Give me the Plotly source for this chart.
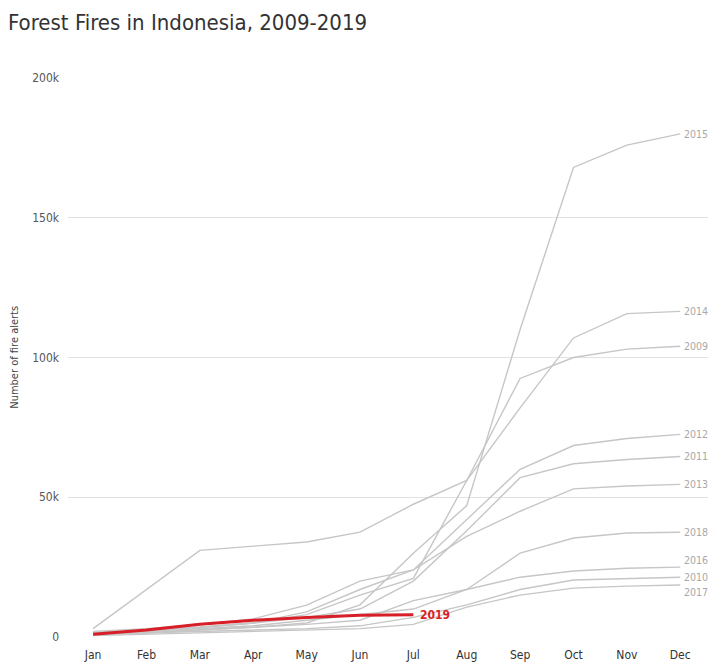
import plotly.graph_objects as go

# fire alerts, cumulative, in thousands
months = ["Jan", "Feb", "Mar", "Apr", "May", "Jun", "Jul", "Aug", "Sep", "Oct", "Nov", "Dec"]

y2009 = [1.5, 2.5, 3.5, 5, 8, 15, 21, 56, 92.5, 100, 103, 104]
y2010 = [1, 1.5, 2, 2.5, 3, 4, 7, 11.5, 17, 20.4, 21, 21.4]
y2011 = [1.5, 2.5, 3.5, 5, 7, 10, 20, 38, 57, 62, 63.5, 64.6]
y2012 = [2, 3, 4.5, 6.5, 11.4, 20, 24, 42, 60, 68.5, 71, 72.5]
y2013 = [1.5, 2.5, 3.5, 5, 9, 17, 24, 36, 45, 53, 54, 54.6]
y2014 = [3, 17, 31, 32.5, 34, 37.5, 47.5, 56, 82, 107, 115.7, 116.5]
y2015 = [1, 1.5, 2.5, 3.5, 5, 11.5, 30, 47, 110, 168, 176, 180]
y2016 = [1, 1.5, 2.5, 3.5, 4.5, 6, 13, 17, 21.4, 23.6, 24.6, 25]
y2017 = [0.5, 1, 1.5, 2, 2.5, 3, 4.5, 10.7, 15, 17.5, 18.2, 18.6]
y2018 = [1, 2, 3, 4, 6, 8, 10, 17, 30, 35.4, 37.2, 37.5]
y2019 = [1, 2.5, 4.6, 6, 7, 7.8, 8]

past = {"2009": y2009, "2010": y2010, "2011": y2011, "2012": y2012, "2013": y2013,
        "2014": y2014, "2015": y2015, "2016": y2016, "2017": y2017, "2018": y2018}
# where the end labels sit (some nudged apart so they dont overlap)
label_y = {"2009": 104, "2010": 21.4, "2011": 64.6, "2012": 72.5, "2013": 54.6,
           "2014": 116.5, "2015": 180, "2016": 27.5, "2017": 16, "2018": 37.5}

ytick_vals = [0, 50, 100, 150, 200]
ytick_text = ["0", "50k", "100k", "150k", "200k"]

FONT = "DejaVu Sans Condensed, Roboto, sans-serif"
GREY = "#c6c6c6"

fig = go.Figure()
for yr, vals in past.items():
    fig.add_trace(go.Scatter(x=months, y=[v * 1000 for v in vals], mode="lines",
                             line=dict(color=GREY, width=1.4), name=yr))
fig.add_trace(go.Scatter(x=months[:len(y2019)], y=[v * 1000 for v in y2019], mode="lines",
                         line=dict(color="#d81e27", width=3), name="2019"))

for yr, ly in label_y.items():
    fig.add_annotation(x=11, y=ly * 1000, xref="x", yref="y", text=yr, showarrow=False,
                       xanchor="left", xshift=2, font=dict(family=FONT, size=10.5, color="#a8a8a8"))
fig.add_annotation(x=6, y=y2019[-1] * 1000, xref="x", yref="y", text="<b>2019</b>", showarrow=False,
                   xanchor="left", xshift=5, font=dict(family=FONT, size=12, color="#d81e27"))

fig.add_annotation(x=-0.084, y=0.5, xref="paper", yref="paper", text="Number of fire alerts",
                   textangle=-90, showarrow=False, xanchor="center", yanchor="middle",
                   font=dict(family=FONT, size=11, color="#444"))

# page has an 8px body margin, so the figure is a bit smaller than the window
fig.update_layout(
    width=708, height=661,
    margin=dict(l=60, r=8, t=70, b=32),
    plot_bgcolor="white", paper_bgcolor="white",
    showlegend=False,
    font=dict(family=FONT, color="#444"),
    title=dict(text="Forest Fires in Indonesia, 2009-2019", x=0.0, xanchor="left",
               y=0.979, yanchor="middle", font=dict(family=FONT, size=22, color="#333")),
)
fig.update_xaxes(range=[-0.47, 11.52], showgrid=False, zeroline=False, showline=False,
                 ticklabelstandoff=9, tickfont=dict(size=12, color="#333"))
fig.update_yaxes(range=[0, 200000], tickvals=[v * 1000 for v in ytick_vals], ticktext=ytick_text,
                 showgrid=True, gridcolor="#e2e2e2", gridwidth=1, zeroline=False,
                 ticklabelstandoff=8, tickfont=dict(size=12, color="#555"))

fig.write_html("out.html")
